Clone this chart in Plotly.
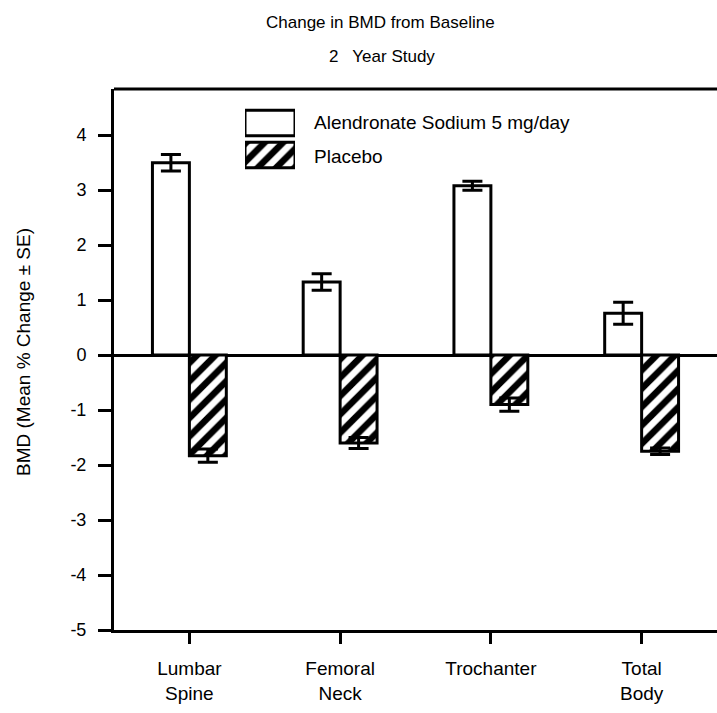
import plotly.graph_objects as go

categories = ["Lumbar<br>Spine", "Femoral<br>Neck", "Trochanter", "Total<br>Body"]
alendronate = [3.5, 1.33, 3.08, 0.76]
alendronate_se = [0.15, 0.15, 0.08, 0.2]
placebo = [-1.83, -1.6, -0.9, -1.75]
placebo_se = [0.12, 0.1, 0.12, 0.06]
y_ticks = [4, 3, 2, 1, 0, -1, -2, -3, -4, -5]
series_names = ["Alendronate Sodium 5 mg/day", "Placebo"]

FONT = "Liberation Sans, Arial, sans-serif"
W, H = 717, 713
ML, MR, MT, MB = 114, 0, 89, 83
PW, PH = W - ML - MR, H - MT - MB


def px_x(p):
    return (p - ML) / PW


def px_y(p):
    return (H - MB - p) / PH


PATTERN = dict(fgcolor="black", bgcolor="white", size=13, solidity=0.5, fgopacity=1,
               fillmode="replace")

fig = go.Figure()
fig.add_trace(go.Bar(
    x=categories, y=alendronate, name=series_names[0], showlegend=False,
    marker=dict(color="white", line=dict(color="black", width=3)),
    error_y=dict(type="data", array=alendronate_se, color="black", thickness=3, width=10),
))
fig.add_trace(go.Bar(
    x=categories, y=placebo, name=series_names[1], showlegend=False,
    marker=dict(color="black", line=dict(color="black", width=3),
                pattern=dict(shape="/", **PATTERN)),
    error_y=dict(type="data", array=placebo_se, color="black", thickness=3, width=10),
))

# Legend swatches (large rectangles like the original)
fig.add_trace(go.Bar(
    x=[1, 1], y=series_names, orientation="h", xaxis="x2", yaxis="y2",
    width=0.8, showlegend=False, hoverinfo="skip",
    marker=dict(color="white", line=dict(color="black", width=3),
                pattern=dict(shape=["", "/"], **PATTERN)),
))

annotations = [
    dict(text="Change in BMD from Baseline", x=px_x(380), y=px_y(22), font=dict(size=17, family=FONT)),
    dict(text="2   Year Study", x=px_x(382), y=px_y(57), font=dict(size=17, family=FONT)),
]
for name, yp in zip(series_names, [122, 156]):
    annotations.append(dict(text=name, x=px_x(312), y=px_y(yp), xanchor="left",
                            font=dict(size=19, family=FONT)))
annotations.append(dict(text="BMD (Mean % Change ± SE)", x=px_x(23), y=px_y(352),
                        xanchor="center", textangle=-90, font=dict(size=19, family=FONT)))

fig.update_layout(
    width=W, height=H,
    margin=dict(l=ML, r=MR, t=MT, b=MB),
    paper_bgcolor="white", plot_bgcolor="white",
    barmode="group", bargap=0.51, bargroupgap=0,
    font=dict(family=FONT, color="black", size=17),
    showlegend=False,
    annotations=[dict(a, xref="paper", yref="paper", showarrow=False, yanchor="middle")
                 for a in annotations],
    shapes=[dict(type="line", xref="paper", yref="paper", x0=0, x1=1, y0=1, y1=1,
                 line=dict(color="black", width=3))],
    xaxis=dict(
        showline=True, linecolor="black", linewidth=3,
        ticks="outside", ticklen=11, tickwidth=3, tickcolor="black",
        tickfont=dict(size=19, family=FONT), showgrid=False, zeroline=False,
        ticklabelstandoff=8,
    ),
    yaxis=dict(
        range=[-5, 4.84], tickvals=y_ticks, ticktext=[str(v) for v in y_ticks],
        showline=True, linecolor="black", linewidth=3,
        ticks="outside", ticklen=13, tickwidth=3, tickcolor="black",
        tickfont=dict(size=18, family=FONT), showgrid=False,
        zeroline=True, zerolinecolor="black", zerolinewidth=3,
        ticklabelstandoff=8,
    ),
    xaxis2=dict(domain=[px_x(245), px_x(295)], anchor="y2", range=[0, 1], visible=False,
                fixedrange=True),
    yaxis2=dict(domain=[px_y(171), px_y(107)], anchor="x2", autorange="reversed",
                visible=False, fixedrange=True),
)

fig.write_html("out.html")
